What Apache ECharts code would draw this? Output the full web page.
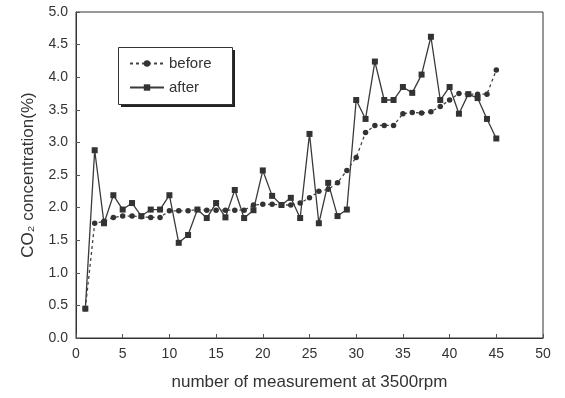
<!DOCTYPE html>
<html>
<head>
<meta charset="utf-8">
<script src="https://cdn.jsdelivr.net/npm/echarts@6/dist/echarts.min.js"></script>
<style>
html,body{margin:0;padding:0;background:#fff;}
#chart{width:565px;height:398px;}
</style>
</head>
<body>
<div id="chart"></div>
<script>
var measurement = [1,2,3,4,5,6,7,8,9,10,11,12,13,14,15,16,17,18,19,20,21,22,23,24,25,26,27,28,29,30,31,32,33,34,35,36,37,38,39,40,41,42,43,44,45];
var before = [0.45,1.76,1.79,1.85,1.87,1.87,1.86,1.85,1.85,1.95,1.95,1.95,1.97,1.96,1.96,1.96,1.96,1.96,2.04,2.05,2.05,2.04,2.04,2.07,2.15,2.25,2.28,2.38,2.57,2.77,3.15,3.26,3.26,3.26,3.44,3.46,3.45,3.47,3.55,3.65,3.75,3.74,3.74,3.74,4.11];
var after = [0.45,2.88,1.76,2.19,1.97,2.07,1.87,1.97,1.97,2.19,1.46,1.58,1.97,1.84,2.07,1.85,2.27,1.84,1.96,2.57,2.18,2.04,2.15,1.84,3.13,1.76,2.38,1.87,1.97,3.65,3.36,4.24,3.65,3.65,3.85,3.76,4.04,4.62,3.65,3.85,3.44,3.74,3.68,3.36,3.06];
var xTicks = {min:0, max:50, step:5};
var yTicks = {min:0, max:5, step:0.5};

function pairs(ys){ return measurement.map(function(x,i){ return [x, ys[i]]; }); }

var txt = '#333';
var font = 'Liberation Sans, Arial, sans-serif';
var chart = echarts.init(document.getElementById('chart'), null, {renderer:'canvas'});
chart.setOption({
  animation:false,
  backgroundColor:'#fff',
  grid:{left:76, top:12, right:22, bottom:60, show:true, borderColor:'#333', borderWidth:1},
  graphic:[
    {type:'rect', z:5, shape:{x:121, y:50, width:114, height:57}, style:{fill:'#222'}},
    {type:'rect', z:6, shape:{x:118.5, y:47.5, width:114, height:57}, style:{fill:'#fff', stroke:'#333', lineWidth:1}}
  ],
  legend:{
    left:119, top:48, orient:'vertical', z:10,
    itemWidth:34, itemHeight:8, itemGap:9,
    padding:[8,10,8,10],
    textStyle:{fontFamily:font, fontSize:15, color:txt},
    data:['before','after']
  },
  xAxis:{
    type:'value', min:xTicks.min, max:xTicks.max, interval:xTicks.step,
    name:'number of measurement at 3500rpm', nameLocation:'middle', nameGap:36,
    nameTextStyle:{fontFamily:font, fontSize:17, color:txt},
    axisLine:{show:true, lineStyle:{color:'#333'}},
    axisTick:{show:true, inside:true, length:4, lineStyle:{color:'#555'}},
    axisLabel:{fontFamily:font, fontSize:14, color:txt, margin:9},
    splitLine:{show:false}
  },
  yAxis:{
    type:'value', min:yTicks.min, max:yTicks.max, interval:yTicks.step,
    name:'CO\u2082 concentration(%)', nameLocation:'middle', nameGap:39,
    nameTextStyle:{fontFamily:font, fontSize:17, color:txt},
    axisLine:{show:true, lineStyle:{color:'#333'}},
    axisTick:{show:true, inside:true, length:4, lineStyle:{color:'#555'}},
    axisLabel:{fontFamily:font, fontSize:14, color:txt, margin:8, formatter:function(v){return v.toFixed(1);}},
    splitLine:{show:false}
  },
  series:[
    {name:'before', type:'line', data:pairs(before), symbol:'circle', symbolSize:5.5,
     itemStyle:{color:'#333'}, lineStyle:{color:'#444', width:1.3, type:[3,3]}, z:3},
    {name:'after', type:'line', data:pairs(after), symbol:'rect', symbolSize:6,
     itemStyle:{color:'#333'}, lineStyle:{color:'#3a3a3a', width:1.3, type:'solid'}, z:2}
  ]
});
</script>
</body>
</html>
